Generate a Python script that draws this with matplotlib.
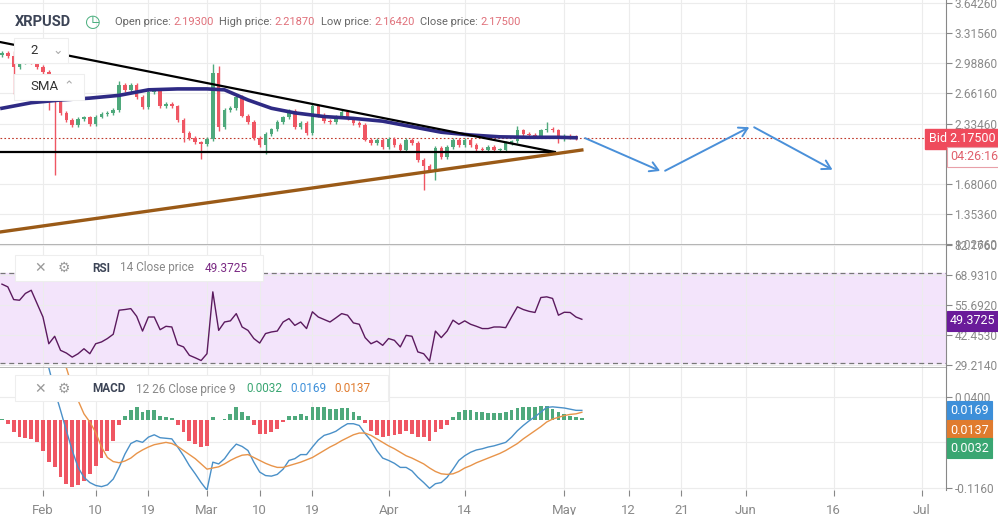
import matplotlib
matplotlib.use("Agg")
import matplotlib.pyplot as plt
import matplotlib.dates as mdates
from matplotlib.patches import FancyBboxPatch
import numpy as np
import pandas as pd

plt.rcParams['font.family'] = ['Roboto', 'DejaVu Sans']

# ---------------- data ----------------
start_date = "2025-01-25"
closes = [3.10, 3.07, 2.95, 3.00, 3.02, 3.00, 2.95, 2.89, 2.84, 2.60,
          2.45, 2.37, 2.32, 2.38, 2.40, 2.33, 2.41, 2.44, 2.45, 2.48,
          2.75, 2.70, 2.75, 2.62, 2.51, 2.68, 2.70, 2.52, 2.55, 2.52,
          2.37, 2.23, 2.18, 2.13, 2.11, 2.17, 2.88, 2.30, 2.48, 2.50,
          2.62, 2.42, 2.35, 2.18, 2.10, 2.22, 2.27, 2.35, 2.40, 2.47,
          2.30, 2.34, 2.23, 2.53, 2.43, 2.36, 2.35, 2.41, 2.46, 2.39,
          2.34, 2.32, 2.16, 2.12, 2.16, 2.08, 2.17, 2.10, 2.05, 2.16,
          2.12, 1.94, 1.87, 1.83, 2.07, 1.97, 2.08, 2.16, 2.10, 2.16,
          2.10, 2.06, 2.05, 2.08, 2.05, 2.05, 2.12, 2.14, 2.26, 2.22,
          2.21, 2.20, 2.26, 2.28, 2.26, 2.17, 2.20, 2.19, 2.175]
first_open = 3.08
high_marks = {2: 3.12, 9: 2.86, 20: 2.80, 36: 2.98, 37: 2.96, 53: 2.56, 88: 2.31, 93: 2.35}
low_marks = {2: 2.65, 8: 2.48, 9: 1.78, 31: 2.13, 34: 1.95, 37: 2.25, 45: 2.00,
             72: 1.61, 74: 1.72, 95: 2.12}

sma_days = [0, 5, 10, 15, 20, 25, 30, 35, 38, 42, 46, 50, 55, 60, 65, 70, 75, 80, 85, 90, 95, 98]
sma_vals = [2.50, 2.56, 2.59, 2.61, 2.64, 2.70, 2.71, 2.71, 2.70, 2.59, 2.50, 2.45, 2.41,
            2.39, 2.36, 2.30, 2.24, 2.21, 2.19, 2.185, 2.185, 2.18]

rsi = [64.9, 63.7, 58.1, 57.8, 60.8, 62.2, 56.3, 50.4, 38.6, 41.9, 35.7, 34.5, 32.7, 34.2,
       36.4, 34.2, 38.6, 39.4, 40.9, 42.8, 53.4, 53.7, 54.1, 50.7, 44.2, 50.4, 50.4, 44.8,
       46.3, 46.0, 38.2, 37.2, 33.5, 32.4, 31.2, 34.2, 61.5, 44.5, 48.2, 48.7, 51.9, 46.0,
       44.5, 40.9, 38.9, 43.1, 43.8, 44.2, 48.2, 49.7, 46.7, 48.2, 45.3, 52.7, 50.4, 49.3,
       48.2, 50.0, 51.9, 51.2, 47.8, 47.2, 41.3, 38.6, 39.8, 37.9, 40.9, 40.1, 37.2, 42.3,
       41.9, 35.0, 34.2, 31.0, 44.2, 41.3, 44.2, 49.0, 47.2, 48.7, 47.2, 46.3, 45.3, 45.3,
       46.0, 46.0, 45.7, 50.4, 54.9, 53.7, 52.9, 52.4, 59.0, 59.3, 58.6, 51.2, 52.5, 52.4,
       50.4, 49.4]

macd_hist = [0.002, -0.006, -0.021, -0.029, -0.030, -0.032, -0.038, -0.052, -0.072, -0.081,
             -0.098, -0.109, -0.114, -0.112, -0.104, -0.092, -0.078, -0.064, -0.052, -0.035,
             -0.009, 0.008, 0.017, 0.022, 0.014, 0.017, 0.017, 0.008, 0.005, 0.003,
             -0.009, -0.021, -0.035, -0.041, -0.046, -0.044, 0.006, 0.001, 0.002, 0.011,
             0.022, 0.014, 0.007, -0.009, -0.023, -0.023, -0.021, -0.015, -0.003, 0.007,
             0.007, 0.011, 0.007, 0.022, 0.023, 0.022, 0.019, 0.019, 0.021, 0.021,
             0.014, 0.008, -0.005, -0.018, -0.026, -0.028, -0.027, -0.026, -0.023, -0.018,
             -0.023, -0.028, -0.029, -0.035, -0.021, -0.015, -0.009, 0.005, 0.014, 0.017,
             0.017, 0.015, 0.014, 0.013, 0.013, 0.013, 0.014, 0.018, 0.021, 0.022,
             0.022, 0.022, 0.024, 0.025, 0.019, 0.014, 0.011, 0.007, 0.006, 0.003]
macd_line = [0.16, 0.155, 0.15, 0.14, 0.13, 0.12, 0.11, 0.10, 0.09, 0.051,
             0.017, -0.018, -0.052, -0.081, -0.098, -0.107, -0.112, -0.114, -0.111, -0.101,
             -0.081, -0.058, -0.040, -0.035, -0.038, -0.029, -0.025, -0.030, -0.031, -0.032,
             -0.046, -0.061, -0.078, -0.092, -0.107, -0.120, -0.072, -0.075, -0.066, -0.052,
             -0.041, -0.045, -0.052, -0.072, -0.089, -0.095, -0.096, -0.093, -0.084, -0.069,
             -0.066, -0.059, -0.059, -0.046, -0.034, -0.026, -0.023, -0.019, -0.012, -0.006,
             -0.006, -0.009, -0.023, -0.035, -0.052, -0.065, -0.069, -0.074, -0.081, -0.081,
             -0.087, -0.098, -0.107, -0.117, -0.109, -0.107, -0.098, -0.084, -0.069, -0.061,
             -0.055, -0.051, -0.049, -0.046, -0.044, -0.041, -0.038, -0.029, -0.018, -0.009,
             -0.001, 0.006, 0.014, 0.022, 0.023, 0.022, 0.021, 0.019, 0.017, 0.0169]
signal_line = [0.17, 0.165, 0.16, 0.155, 0.15, 0.14, 0.13, 0.12, 0.11, 0.10,
               0.095, 0.09, 0.057, 0.034, 0.011, -0.003, -0.021, -0.046, -0.064, -0.071,
               -0.073, -0.070, -0.065, -0.057, -0.051, -0.046, -0.042, -0.040, -0.038, -0.040,
               -0.045, -0.052, -0.059, -0.066, -0.075, -0.084, -0.082, -0.080, -0.075, -0.069,
               -0.064, -0.060, -0.059, -0.064, -0.069, -0.074, -0.078, -0.081, -0.081, -0.078,
               -0.075, -0.072, -0.068, -0.064, -0.058, -0.052, -0.046, -0.041, -0.035, -0.030,
               -0.025, -0.022, -0.022, -0.026, -0.032, -0.038, -0.044, -0.049, -0.055, -0.061,
               -0.065, -0.070, -0.075, -0.082, -0.088, -0.092, -0.093, -0.092, -0.088, -0.082,
               -0.078, -0.073, -0.069, -0.065, -0.061, -0.057, -0.052, -0.046, -0.040, -0.032,
               -0.025, -0.018, -0.011, -0.003, 0.002, 0.005, 0.008, 0.010, 0.011, 0.0137]

# drawn lines (date, price)
desc_line = [("2025-01-24 16:00", 3.219), ("2025-04-29 09:00", 2.025)]
flat_line = [("2025-01-24 16:00", 2.025), ("2025-04-29 09:00", 2.025)]
rise_line = [("2025-01-24 16:00", 1.157), ("2025-05-04 00:00", 2.047)]
arrow_path = [("2025-05-04 03:00", 2.188), ("2025-05-17 19:00", 1.808),
              ("2025-06-02 00:00", 2.308), ("2025-06-16 05:00", 1.819)]

price_ticks = [3.6426, 3.3156, 2.9886, 2.6616, 2.3346, 1.6806, 1.3536, 1.0266]
rsi_ticks = [82.176, 68.931, 55.692, 42.453, 29.214]
macd_ticks = [0.0400, -0.0380, -0.1160]
date_ticks = ["2025-02-01", "2025-02-10", "2025-02-19", "2025-03-01", "2025-03-10",
              "2025-03-19", "2025-04-01", "2025-04-14", "2025-05-01", "2025-05-12",
              "2025-05-21", "2025-06-01", "2025-06-16", "2025-07-01"]
date_labels = ["Feb", "10", "19", "Mar", "10", "19", "Apr", "14", "May", "12", "21", "Jun", "16", "Jul"]

header_labels = ["Open price: ", "High price: ", "Low price: ", "Close price: "]
header_values = ["2.19300", "2.21870", "2.16420", "2.17500"]

# ---------------- figure ----------------
W, H = 998, 515
fig = plt.figure(figsize=(W / 100, H / 100), dpi=100)
fig.patch.set_facecolor("white")

def axrect(top, bottom, right=946):
    return [0, 1 - bottom / H, right / W, (bottom - top) / H]

ax = fig.add_axes(axrect(0, 245))
ax_r = fig.add_axes(axrect(245, 368))
ax_m = fig.add_axes(axrect(368, 490))

GREEN = "#4fa97c"
RED = "#ef5663"
GRID = "#ececec"
TXT = "#8a8a8a"

xmin = mdates.date2num(pd.Timestamp("2025-01-24 16:00"))
xmax = mdates.date2num(pd.Timestamp("2025-07-05 04:00"))
dt = pd.date_range(start_date, periods=len(rsi))
xd = mdates.date2num(dt)
xt = mdates.date2num(pd.to_datetime(date_ticks))

for a in (ax, ax_r, ax_m):
    a.set_xlim(xmin, xmax)
    a.yaxis.tick_right()
    a.set_xticks(xt)
    a.grid(True, color=GRID, lw=0.8)
    a.set_axisbelow(True)
    for s in ("top", "left", "bottom"):
        a.spines[s].set_visible(False)
    a.spines["right"].set_color("#888888")
    a.tick_params(axis="y", colors="#888888", labelcolor=TXT, labelsize=8.6, length=4, pad=2)
    a.tick_params(axis="x", length=0)
ax.tick_params(axis="x", labelbottom=False)
ax_r.tick_params(axis="x", labelbottom=False)
ax_m.set_xticklabels(date_labels)
ax_m.tick_params(axis="x", labelcolor=TXT, labelsize=9.5, pad=6, length=4, colors="#888888")

# ---- main candles ----
ax.set_ylim(1.016, 3.675)
ax.set_yticks(price_ticks)
ax.set_yticklabels([f"{v:.5f}" for v in price_ticks])
ax.axhline(1.016, color="#aaaaaa", lw=1.2)
n = len(closes)
opens = [first_open] + closes[:-1]
xc = xd[:n]
for i in range(n):
    o, c = opens[i], closes[i]
    col = GREEN if c >= o else RED
    hi = high_marks.get(i, max(o, c) + 0.02)
    lo = low_marks.get(i, min(o, c) - 0.02)
    ax.vlines(xc[i], lo, hi, color=col, lw=1, zorder=3)
    ax.bar(xc[i], max(abs(c - o), 0.006), bottom=min(o, c), width=0.6, color=col, zorder=3)

ax.plot(xd[np.array(sma_days)], sma_vals, color="#2e2a84", lw=2.6, zorder=4)
for ln, col, lw in ((desc_line, "black", 1.6), (flat_line, "black", 1.6), (rise_line, "#9a5a17", 2.4)):
    ax.plot(mdates.date2num(pd.to_datetime([p[0] for p in ln])), [p[1] for p in ln], color=col, lw=lw, zorder=5)
ap_x = mdates.date2num(pd.to_datetime([p[0] for p in arrow_path]))
ap_y = [p[1] for p in arrow_path]
for k in range(len(ap_x) - 1):
    ax.annotate("", xy=(ap_x[k + 1], ap_y[k + 1]), xytext=(ap_x[k], ap_y[k]),
                arrowprops=dict(arrowstyle="->,head_length=0.6,head_width=0.35", color="#4a90d9", lw=1.4))
ax.axhline(closes[-1], color="#c0392b", lw=0.8, ls=(0, (1.5, 2)), zorder=2)

def tag(y, text, fc, x0=946):
    fig.text((x0 + 4) / W, 1 - y / H, text, color="white", fontsize=9, va="center", ha="left",
             bbox=dict(boxstyle="square,pad=0.25", fc=fc, ec=fc, lw=0.8), zorder=10)

fig.text(929 / W, 1 - 139 / H, "Bid 2.17500", color="white", fontsize=9, va="center", ha="left",
         bbox=dict(boxstyle="square,pad=0.3", fc="#ef4b5c", ec="#ef4b5c"), zorder=10)
fig.text(950 / W, 1 - 157 / H, "04:26:16", color="#e0606c", fontsize=9, va="center", ha="left",
         bbox=dict(boxstyle="square,pad=0.25", fc="white", ec="#e8a0a8", lw=0.8), zorder=10)

# ---- RSI ----
ax_r.set_ylim(27.9, 82.17)
ax_r.set_yticks(rsi_ticks)
ax_r.set_yticklabels([f"{v:.4f}" for v in rsi_ticks])
ax_r.axhline(27.9, color="#aaaaaa", lw=1.2)
ax_r.axhspan(30, 70, color="#f3e4fb", zorder=0)
ax_r.axhline(70, color="#777777", lw=0.9, ls=(0, (4, 3)))
ax_r.axhline(30, color="#777777", lw=0.9, ls=(0, (4, 3)))
ax_r.plot(xd, rsi, color="#5b1a5e", lw=1.0, zorder=3)
tag(321, "49.3725", "#6a1b9a")

# ---- MACD ----
ax_m.set_ylim(-0.1198, 0.0897)
ax_m.set_yticks(macd_ticks)
ax_m.set_yticklabels([f"{v:.4f}" for v in macd_ticks])
hcols = [GREEN if v >= 0 else RED for v in macd_hist]
ax_m.bar(xd, macd_hist, width=0.65, color=hcols, zorder=2)
ax_m.plot(xd, macd_line, color="#4a90c8", lw=1.0, zorder=3)
ax_m.plot(xd, signal_line, color="#e8944a", lw=1.0, zorder=3)
tag(411, "0.0169", "#3d8fd9")
tag(430, "0.0137", "#e07b2e")
tag(448, "0.0032", "#3aa672")

# ---- header & legend boxes ----
fig.text(15 / W, 1 - 22 / H, "XRPUSD", fontsize=10.5, fontweight="bold", color="#3c4456", va="center")
fig.text(92 / W, 1 - 22 / H, "\u25F7", fontsize=13, color="#4caf7f", va="center", ha="center")
r = fig.canvas.get_renderer()
for lab, val, x0 in zip(header_labels, header_values, [115, 219, 321, 420]):
    t = fig.text(x0 / W, 1 - 22 / H, lab, fontsize=8, color="#666666", va="center")
    bb = t.get_window_extent(renderer=r)
    fig.text(bb.x1 / W, 1 - 22 / H, val, fontsize=8, color="#e0707a", va="center")

def box(x0, y0, x1, y1):
    fig.patches.append(FancyBboxPatch((x0 / W, 1 - y1 / H), (x1 - x0) / W, (y1 - y0) / H,
                                      boxstyle="square,pad=0", fc="white", ec="#eeeeee", lw=0.8,
                                      transform=fig.transFigure, zorder=8))

box(14, 38, 68, 63)
fig.text(30 / W, 1 - 50 / H, "2", fontsize=9.5, color="#333333", va="center", zorder=9)
fig.text(52 / W, 1 - 50 / H, "\u2304", fontsize=9, color="#aaaaaa", va="center", zorder=9)
box(14, 74, 84, 100)
fig.text(30 / W, 1 - 87 / H, "SMA", fontsize=9.5, color="#333333", va="center", zorder=9)
fig.text(63 / W, 1 - 87 / H, "\u2303", fontsize=9, color="#aaaaaa", va="center", zorder=9)

box(15, 255, 263, 281)
fig.text(34 / W, 1 - 268 / H, "\u2715", fontsize=10, color="#999999", va="center", zorder=9)
fig.text(58 / W, 1 - 268 / H, "\u2699", fontsize=10, color="#999999", va="center", zorder=9)
fig.text(92 / W, 1 - 268 / H, "RSI", fontsize=8.5, color="#3c4456", fontweight="bold", va="center", zorder=9)
fig.text(120 / W, 1 - 268 / H, "14 Close price", fontsize=8.5, color="#888888", va="center", zorder=9)
fig.text(205 / W, 1 - 268 / H, "49.3725", fontsize=8.5, color="#7b2a84", va="center", zorder=9)

box(15, 375, 388, 401)
fig.text(34 / W, 1 - 389 / H, "\u2715", fontsize=10, color="#999999", va="center", zorder=9)
fig.text(58 / W, 1 - 389 / H, "\u2699", fontsize=10, color="#999999", va="center", zorder=9)
fig.text(92 / W, 1 - 389 / H, "MACD", fontsize=8.5, color="#3c4456", fontweight="bold", va="center", zorder=9)
fig.text(136 / W, 1 - 389 / H, "12 26 Close price 9", fontsize=8.5, color="#888888", va="center", zorder=9)
fig.text(246 / W, 1 - 389 / H, "0.0032", fontsize=8.5, color="#3aa672", va="center", zorder=9)
fig.text(290 / W, 1 - 389 / H, "0.0169", fontsize=8.5, color="#3d8fd9", va="center", zorder=9)
fig.text(334 / W, 1 - 389 / H, "0.0137", fontsize=8.5, color="#e07b2e", va="center", zorder=9)

fig.savefig("out.png", dpi=100)
